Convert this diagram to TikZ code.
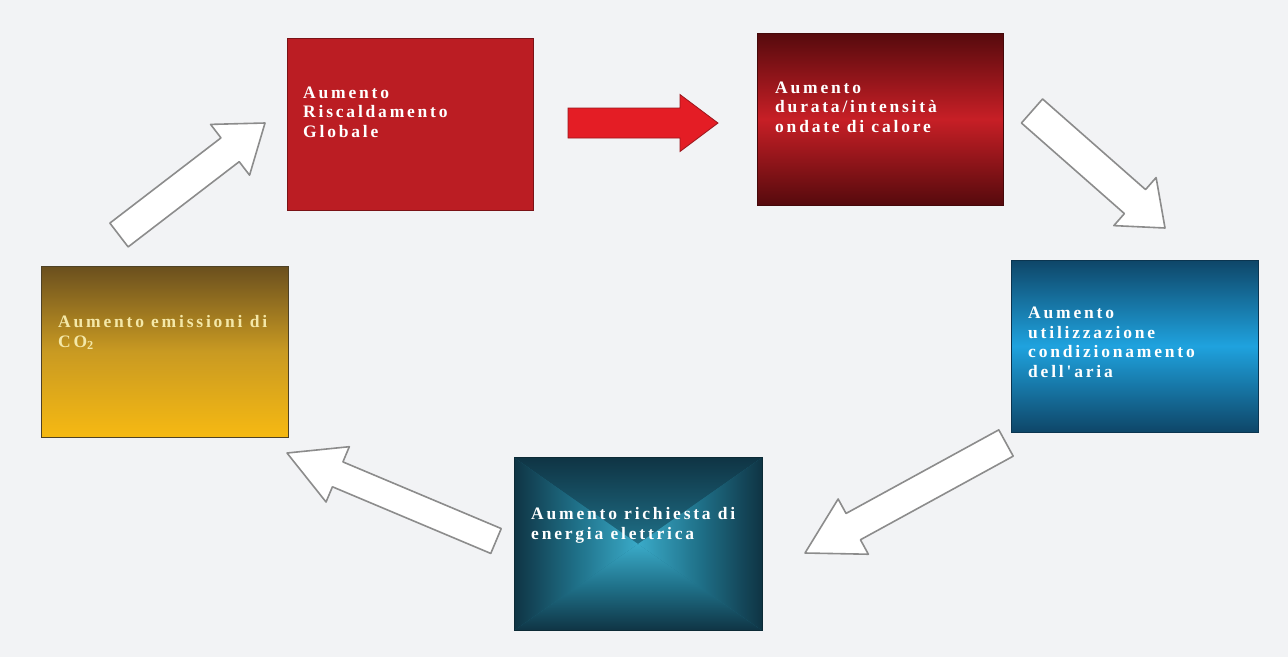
\documentclass[tikz,border=0pt]{standalone}
\usepackage{fontspec}
\setmainfont{Liberation Serif}
\newfontfamily\boxfont[LetterSpace=16]{Liberation Serif}
\usetikzlibrary{calc}

\definecolor{bgcol}{HTML}{F2F3F5}
\definecolor{redflat}{HTML}{BB1D23}
\definecolor{redrim}{HTML}{7A1216}
\definecolor{reddark}{HTML}{560A0D}
\definecolor{redmid}{HTML}{C71F26}
\definecolor{bluedark}{HTML}{0E4668}
\definecolor{bluemid}{HTML}{1FA2DE}
\definecolor{bluerim}{HTML}{0B3550}
\definecolor{golddark}{HTML}{6A4F1E}
\definecolor{goldmid}{HTML}{C99A22}
\definecolor{goldlight}{HTML}{F6B912}
\definecolor{goldrim}{HTML}{4E4226}
\definecolor{goldtext}{HTML}{F4E8A8}
\definecolor{tealdark}{HTML}{0F3444}
\definecolor{tealmid}{HTML}{1F7088}
\definecolor{teallight}{HTML}{3AAAC8}
\definecolor{arrowred}{HTML}{E41D25}
\definecolor{arrowrim}{HTML}{8C8C8C}

% block arrow from tail point #2 to tip #3:
% #4 half shaft width, #5 half head width, #6 head length
\newcommand\blockarrow[6]{%
  \coordinate (bahead) at ($(#3)!#6!(#2)$);
  \draw[#1] ($(#2)!#4!90:(#3)$) -- ($(bahead)!#4!90:(#3)$)
    -- ($(bahead)!#5!90:(#3)$) -- (#3) -- ($(bahead)!#5!-90:(#3)$)
    -- ($(bahead)!#4!-90:(#3)$) -- ($(#2)!#4!-90:(#3)$) -- cycle;
}

\tikzset{
  box/.style={rectangle, inner sep=0pt, outer sep=0pt, line width=1pt},
  txt/.style={anchor=base west, align=left, inner sep=0pt, text=white,
    font=\boxfont\bfseries\fontsize{17.5}{19.5}\selectfont},
  whitearrow/.style={fill=white, draw=arrowrim, line width=1.6pt, line join=round},
  redarrow/.style={fill=arrowred, draw=redrim!70!arrowred, line width=0.8pt, line join=miter},
}

\begin{document}
\begin{tikzpicture}[x=1pt,y=-1pt]
\fill[bgcol] (0,0) rectangle (1288,657);
\useasboundingbox (0,0) rectangle (1288,657);

% boxes
\node[box, minimum width=246pt, minimum height=172pt, fill=redflat, draw=redrim] (b1) at (410,124) {};
\node[box, minimum width=246pt, minimum height=172pt, top color=reddark, bottom color=reddark,
  middle color=redmid, draw=reddark!80!black] (b2) at (880,119) {};
\node[box, minimum width=247pt, minimum height=172pt, top color=bluedark, bottom color=bluedark,
  middle color=bluemid, draw=bluerim] (b3) at (1134.5,346) {};
\node[box, minimum width=247pt, minimum height=171pt, top color=golddark, bottom color=goldlight,
  middle color=goldmid, draw=goldrim] (b4) at (164.5,351.5) {};
\node[box, minimum width=248pt, minimum height=173pt, fill=tealmid, draw=tealdark!80!black,
  path picture={
    \shade[top color=tealdark, bottom color=teallight, middle color=tealmid]
      (path picture bounding box.north west) -- (path picture bounding box.north east)
      -- (path picture bounding box.center) -- cycle;
    \shade[top color=teallight, bottom color=tealdark, middle color=tealmid]
      (path picture bounding box.south west) -- (path picture bounding box.south east)
      -- (path picture bounding box.center) -- cycle;
    \shade[left color=tealdark, right color=teallight, middle color=tealmid]
      (path picture bounding box.north west) -- (path picture bounding box.south west)
      -- (path picture bounding box.center) -- cycle;
    \shade[left color=teallight, right color=tealdark, middle color=tealmid]
      (path picture bounding box.north east) -- (path picture bounding box.south east)
      -- (path picture bounding box.center) -- cycle;
  }] (b5) at (638,544) {};

% labels (placed at the baseline of their last line)
\node[txt] (t1) at (303,137) {Aumento\\Riscaldamento\\Globale};
\node[txt] (t2) at (775,132) {Aumento\\durata/intensità\\ondate di calore};
\node[txt] (t3) at (1028,377) {Aumento\\utilizzazione\\condizionamento\\dell'aria};
\node[txt, text=goldtext] (t4) at (58,347) {Aumento emissioni di\\CO\textsubscript{2}};
\node[txt] (t5) at (531,539) {Aumento richiesta di\\energia elettrica};

% arrow end points
\coordinate (a1s) at (568,123);  \coordinate (a1e) at (718,123);
\coordinate (a2s) at (119,235);  \coordinate (a2e) at (265,123);
\coordinate (a3s) at (1032,111); \coordinate (a3e) at (1165,228);
\coordinate (a4s) at (1006,443); \coordinate (a4e) at (805,553);
\coordinate (a5s) at (496,541);  \coordinate (a5e) at (287,453);

% arrows
\blockarrow{redarrow}{a1s}{a1e}{15pt}{28.5pt}{38pt}
\blockarrow{whitearrow}{a2s}{a2e}{15pt}{32pt}{44pt}
\blockarrow{whitearrow}{a3s}{a3e}{16pt}{32pt}{40pt}
\blockarrow{whitearrow}{a4s}{a4e}{15pt}{31.5pt}{55pt}
\blockarrow{whitearrow}{a5s}{a5e}{13.5pt}{30pt}{55pt}
\end{tikzpicture}
\end{document}
